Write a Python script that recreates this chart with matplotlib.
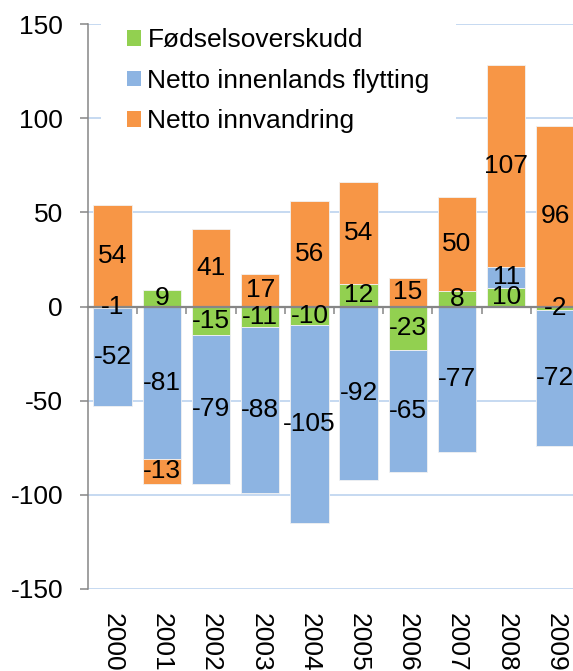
import numpy as np
import matplotlib.pyplot as plt
from matplotlib.patches import Patch

plt.rcParams["font.family"] = ["Liberation Sans", "DejaVu Sans"]
plt.rcParams["axes.unicode_minus"] = False

years = ["2000", "2001", "2002", "2003", "2004", "2005", "2006", "2007", "2008", "2009"]
fodsel = [-1, 9, -15, -11, -10, 12, -23, 8, 10, -2]
innenlands = [-52, -81, -79, -88, -105, -92, -65, -77, 11, -72]
innvandring = [54, -13, 41, 17, 56, 54, 15, 50, 107, 96]

series_names = ["Fødselsoverskudd", "Netto innenlands flytting", "Netto innvandring"]
colors = ["#92D050", "#8DB4E2", "#F79646"]

W, H = 573, 671
fig = plt.figure(figsize=(W / 100, H / 100), dpi=100)
ax = fig.add_axes([88 / W, 1 - 589 / H, 492 / W, 565 / H])

x = np.arange(len(years))
pos_base = np.zeros(len(years))
neg_base = np.zeros(len(years))
fs = 19

# stacked like Excel: positives build up, negatives build down
for vals, col in zip([fodsel, innenlands, innvandring], colors):
    vals = np.array(vals, dtype=float)
    bottoms = np.where(vals >= 0, pos_base, neg_base)
    ax.bar(x, vals, bottom=bottoms, width=0.78, color=col,
           edgecolor="#F2F2F2", linewidth=0.6, zorder=3)
    for xi, v, b in zip(x, vals, bottoms):
        ax.text(xi, b + v / 2, f"{int(v)}", ha="center", va="center",
                fontsize=fs, color="black", zorder=5)
    pos_base = np.where(vals >= 0, pos_base + vals, pos_base)
    neg_base = np.where(vals < 0, neg_base + vals, neg_base)

ax.set_xlim(-0.5, 9.5)
ax.set_ylim(-150, 150)
ax.set_yticks([-150, -100, -50, 0, 50, 100, 150])
ax.yaxis.grid(True, color="#C6D9F1", linewidth=1.4, zorder=0)
ax.set_axisbelow(True)

for s in ["top", "right"]:
    ax.spines[s].set_visible(False)
ax.spines["left"].set_color("#868686")
ax.spines["left"].set_linewidth(1.1)
ax.spines["bottom"].set_position(("data", 0))
ax.spines["bottom"].set_color("#868686")
ax.spines["bottom"].set_linewidth(1.6)
ax.spines["bottom"].set_zorder(4)

ax.tick_params(axis="y", direction="out", length=6, width=1.1, color="#868686",
               labelsize=fs, pad=12)
ax.set_xticks(np.arange(0.5, 9.5, 1.0))
ax.set_xticklabels([])
ax.tick_params(axis="x", direction="out", length=5, width=1.1, color="#868686")

# year labels sit below the plot area, rotated
for xi, yr in zip(x, years):
    ax.text(xi, -0.043, yr, transform=ax.get_xaxis_transform(), rotation=270,
            ha="center", va="top", fontsize=fs, clip_on=False)

handles = [Patch(facecolor=c, edgecolor="none") for c in colors]
leg = fig.legend(handles, series_names, loc="upper left",
                 bbox_to_anchor=(101 / W, 1 - 2 / H), bbox_transform=fig.transFigure,
                 fontsize=fs, frameon=True, facecolor="white", edgecolor="none",
                 framealpha=1, fancybox=False, borderpad=1.0, borderaxespad=0,
                 handlelength=0.53, handleheight=0.53, handletextpad=0.23,
                 labelspacing=0.62)
leg.set_zorder(10)

fig.savefig("out.png", dpi=100)
